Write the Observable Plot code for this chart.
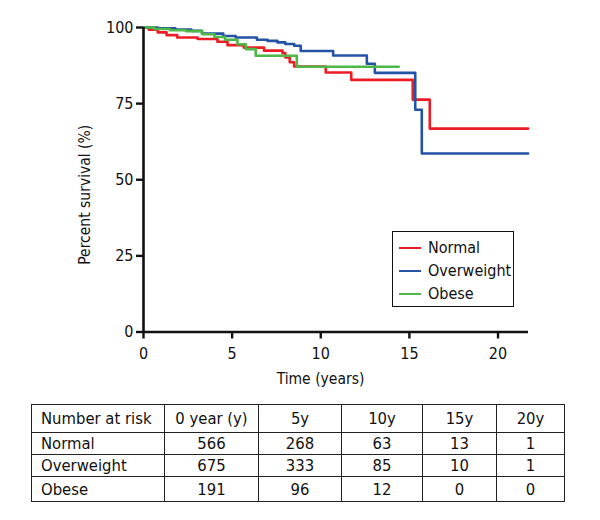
<!DOCTYPE html>
<html><head><meta charset="utf-8">
<script src="https://cdn.jsdelivr.net/npm/d3@7"></script>
<script src="https://cdn.jsdelivr.net/npm/@observablehq/plot@0.6"></script>
<style>
body{margin:0;background:#fff;}
#wrap{position:relative;width:600px;height:520px;background:#fff;font-family:"DejaVu Sans Condensed","Liberation Sans Narrow",sans-serif;color:#111;}
#chart{position:absolute;left:0;top:0;}
#legend{position:absolute;left:392px;top:231px;width:122px;height:76px;border:1px solid #111;box-sizing:border-box;padding-top:4px;}
.item{height:23px;line-height:23px;font-size:16px;position:relative;}
.sw{position:absolute;left:6px;top:11px;width:22px;height:0;border-top:2.6px solid;}
.lbl{position:absolute;left:35px;top:0;}
#risk{position:absolute;left:31px;top:404px;border-collapse:collapse;table-layout:fixed;width:533px;font-size:16.5px;}
#risk td{border:1.6px solid #222;padding:0;text-align:center;white-space:nowrap;overflow:hidden;}
#risk td.first{text-align:left;padding-left:9px;}
</style></head><body>
<div id="wrap"><div id="chart"></div><div id="legend"></div><table id="risk"><colgroup id="cols"></colgroup></table></div>
<script>
const groups = ["Normal", "Overweight", "Obese"];
const colors = ["#ec1c24", "#2452a4", "#4db847"];

const normalTime = [0, 0.3, 0.8, 1.3, 1.9, 3.05, 4.17, 4.74, 5.66, 6.8, 7.84, 8.0, 8.25, 8.5, 10.28, 11.72, 15.19, 16.15, 21.7];
const normalSurv = [100, 99.3, 98.4, 97.5, 96.7, 96.2, 95.3, 94.2, 93.4, 92.4, 91.6, 90.2, 88.6, 87.2, 85.2, 82.8, 76.3, 66.8, 66.8];

const overTime = [0, 0.8, 1.8, 2.7, 3.3, 4.5, 5.2, 6.4, 7.0, 7.56, 8.0, 8.5, 8.87, 10.7, 12.6, 13.05, 15.33, 15.7, 21.7];
const overSurv = [100, 99.7, 99.3, 98.9, 98.0, 97.2, 96.7, 96.0, 95.6, 95.1, 94.6, 94.0, 92.3, 90.8, 88.1, 85.1, 73.0, 58.6, 58.6];

const obeseTime = [0, 0.6, 1.5, 2.4, 3.3, 4.0, 4.6, 5.3, 5.77, 6.33, 8.65, 14.4];
const obeseSurv = [100, 99.5, 99.1, 98.8, 97.8, 96.9, 96.0, 94.5, 92.9, 90.7, 87.1, 87.1];

const xTicks = [0, 5, 10, 15, 20];
const yTicks = [0, 25, 50, 75, 100];
const xLabel = "Time (years)";
const yLabel = "Percent survival (%)";

const riskHeader = ["Number at risk", "0 year (y)", "5y", "10y", "15y", "20y"];
const riskNormal = [566, 268, 63, 13, 1];
const riskOver = [675, 333, 85, 10, 1];
const riskObese = [191, 96, 12, 0, 0];

const series = [[normalTime, normalSurv], [overTime, overSurv], [obeseTime, obeseSurv]];
const data = [];
series.forEach(([ts, ss], g) => ts.forEach((t, i) => data.push({group: groups[g], t, s: ss[i]})));

const font = '"DejaVu Sans Condensed","Liberation Sans Narrow",sans-serif';
const chart = Plot.plot({
  width: 600, height: 400,
  marginLeft: 143, marginRight: 72, marginTop: 27, marginBottom: 68.5,
  style: {fontFamily: font, fontSize: "16px", color: "#111", background: "transparent", overflow: "visible"},
  x: {domain: [0, 21.72]},
  y: {domain: [0, 100]},
  color: {domain: groups, range: colors},
  marks: [
    Plot.line(data, {x: "t", y: "s", z: "group", stroke: "group", curve: "step-after", strokeWidth: 2.6}),
    Plot.ruleX([0], {strokeWidth: 2.6, stroke: "#111"}),
    Plot.ruleY([0], {strokeWidth: 2.6, stroke: "#111"}),
    Plot.axisX({ticks: xTicks, tickSize: 7, tickPadding: 9, strokeWidth: 2.4, label: null, fontSize: 16}),
    Plot.axisY({ticks: yTicks, tickSize: 7, tickPadding: 3, strokeWidth: 2.4, label: null, fontSize: 16}),
    Plot.text([xLabel], {frameAnchor: "bottom", lineAnchor: "middle", textAnchor: "middle", dy: 47.5, dx: -15.5, fontSize: 15.5, fill: "#111"}),
    Plot.text([yLabel], {frameAnchor: "left", lineAnchor: "middle", textAnchor: "middle", rotate: -90, dx: -58, dy: 15, fontSize: 15.5, fill: "#111"})
  ]
});
document.getElementById("chart").appendChild(chart);

const legend = document.getElementById("legend");
groups.forEach((g, i) => {
  const it = document.createElement("div");
  it.className = "item";
  it.innerHTML = `<span class="sw" style="border-color:${colors[i]}"></span><span class="lbl">${g}</span>`;
  legend.appendChild(it);
});

const widths = [133, 94, 83, 81, 74, 68];
const heights = [28, 22, 22, 25];
const cols = document.getElementById("cols");
widths.forEach(w => { const c = document.createElement("col"); c.style.width = w + "px"; cols.appendChild(c); });
const rows = [riskHeader, [groups[0], ...riskNormal], [groups[1], ...riskOver], [groups[2], ...riskObese]];
const table = document.getElementById("risk");
rows.forEach((r, ri) => {
  const tr = document.createElement("tr");
  tr.style.height = heights[ri] + "px";
  r.forEach((v, ci) => {
    const td = document.createElement("td");
    td.textContent = v;
    if (ci === 0) td.className = "first";
    tr.appendChild(td);
  });
  table.appendChild(tr);
});
</script>
</body></html>
